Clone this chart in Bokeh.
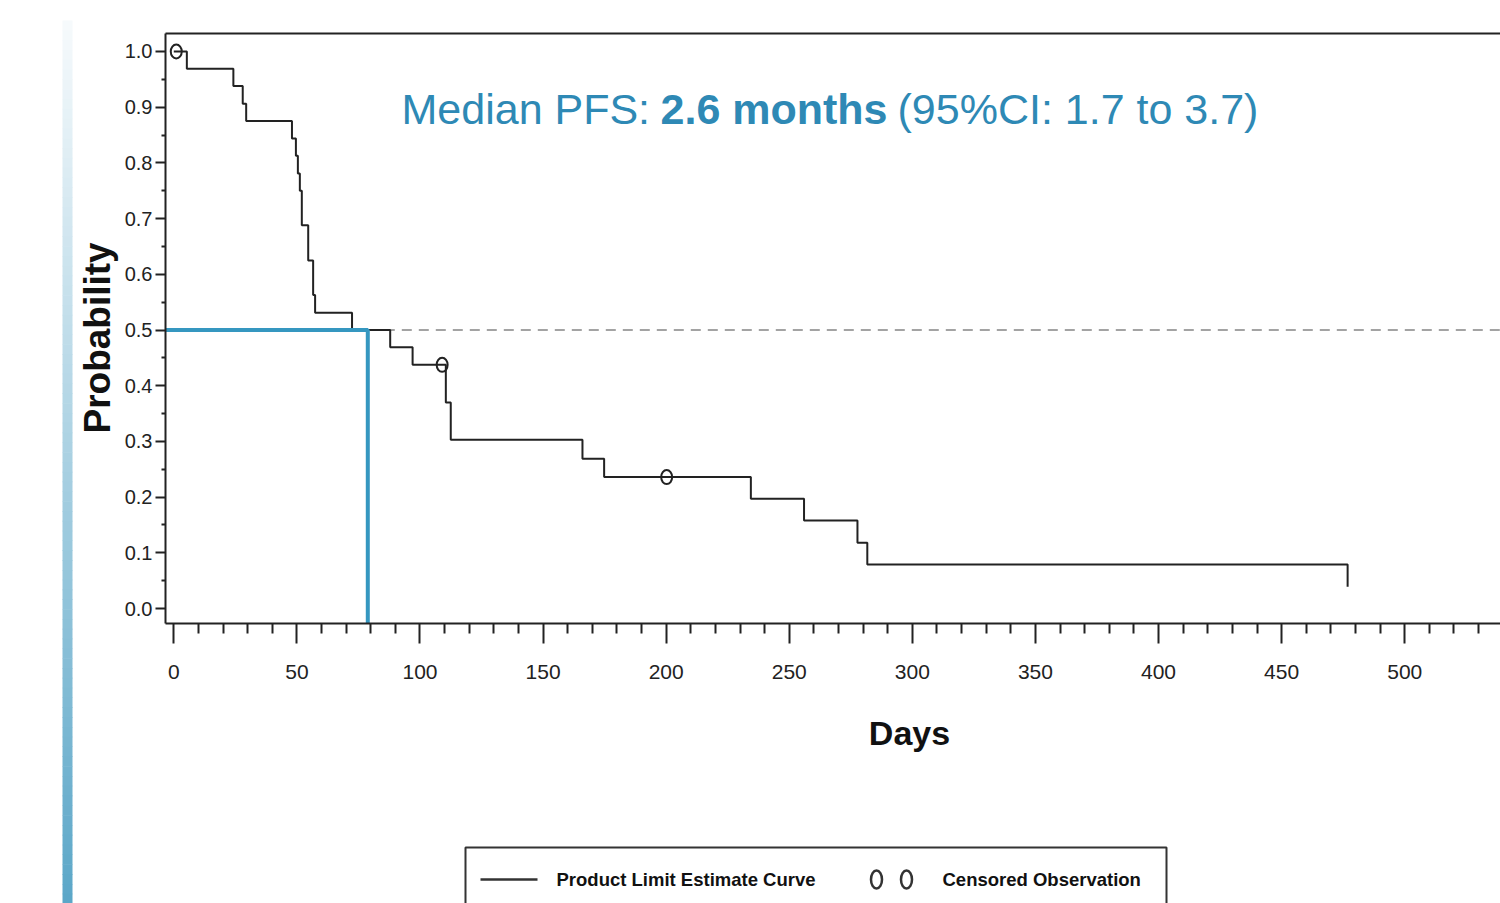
from bokeh.plotting import figure
from bokeh.models import Range1d, FixedTicker, LinearAxis, Label, NumeralTickFormatter
from bokeh.layouts import row, column
from bokeh.embed import file_html
from bokeh.resources import INLINE
from bokeh.core.properties import value
import math

# ---------------- data ----------------
step_days = [0, 5.3, 24.2, 28.0, 29.4, 48.0, 49.6, 50.4, 51.2, 52.0, 54.6, 56.6,
             57.4, 72.4, 87.9, 97.0, 110.5, 112.5, 166.0, 174.8, 234.4, 256.0,
             277.7, 281.7, 476.8]
step_surv = [1.0, 0.969, 0.938, 0.906, 0.875, 0.844, 0.813, 0.781, 0.750, 0.688,
             0.625, 0.563, 0.531, 0.500, 0.469, 0.4375, 0.370, 0.303, 0.269, 0.236,
             0.197, 0.158, 0.118, 0.079, 0.039]
censor_days = [1.0, 109.0, 200.2]
censor_surv = [1.0, 0.4375, 0.236]
median_days = 78.8
median_prob = 0.5
x_major = [0, 50, 100, 150, 200, 250, 300, 350, 400, 450, 500]
x_minor = [10, 20, 30, 40, 60, 70, 80, 90, 110, 120, 130, 140, 160, 170, 180, 190,
           210, 220, 230, 240, 260, 270, 280, 290, 310, 320, 330, 340, 360, 370,
           380, 390, 410, 420, 430, 440, 460, 470, 480, 490, 510, 520, 530]
y_major = [0.0, 0.1, 0.2, 0.3, 0.4, 0.5, 0.6, 0.7, 0.8, 0.9, 1.0]
y_minor = [0.05, 0.15, 0.25, 0.35, 0.45, 0.55, 0.65, 0.75, 0.85, 0.95]
title_parts = ["Median PFS: ", "2.6 months", "(95%CI: 1.7 to 3.7)"]
y_label = "Probability"
x_label = "Days"
legend_labels = ["Product Limit Estimate Curve", "Censored Observation"]

# ---------------- style ----------------
FONT = "Liberation Sans"
INK = "#222222"
BLUE_LINE = "#3597c0"
BLUE_TEXT = "#2e89b5"
PAGE_H = 903
LEFT_W = 120
X0, X1 = -3.37, 538.9
Y0, Y1 = -0.0269, 1.0323

# ---------------- left strip: gradient bar + y label ----------------
bar = figure(width=LEFT_W, height=PAGE_H, x_range=Range1d(0, LEFT_W),
             y_range=Range1d(0, PAGE_H), x_axis_type=None, y_axis_type=None,
             output_backend="svg", toolbar_location=None, min_border=0)
bar.outline_line_color = None
n_seg = 90
top_c = (246, 250, 252)
bot_c = (92, 167, 200)
g0, g1 = 20.0, 903.0
tops, bots, cols = [], [], []
for i in range(n_seg):
    t = i / (n_seg - 1)
    a = g0 + (g1 - g0) * i / n_seg
    b = g0 + (g1 - g0) * (i + 1) / n_seg + 0.6
    c = tuple(int(round(top_c[k] + (bot_c[k] - top_c[k]) * t)) for k in range(3))
    tops.append(PAGE_H - a)
    bots.append(PAGE_H - b)
    cols.append("#%02x%02x%02x" % c)
bar.quad(left=62, right=72, top=tops, bottom=bots, fill_color=cols, line_color=None)
bar.text(x=[97], y=[PAGE_H - 337.4], text=[y_label], angle=math.pi / 2,
         text_font=value(FONT), text_font_size=value("37px"), text_font_style="bold",
         text_color="#111111", text_align="center", text_baseline="alphabetic")

# ---------------- main KM plot ----------------
main = figure(width=1500 - LEFT_W, height=698,
              x_range=Range1d(X0, X1), y_range=Range1d(Y0, Y1),
              output_backend="svg", toolbar_location=None,
              min_border_left=165 - LEFT_W, min_border_right=0, min_border_top=33,
              min_border_bottom=75)
main.outline_line_color = None
main.xgrid.visible = False
main.ygrid.visible = False

xa = main.xaxis[0]
xa.ticker = FixedTicker(ticks=x_major, minor_ticks=x_minor)
xa.axis_line_width = 2
xa.axis_line_color = INK
xa.major_tick_line_width = 2
xa.major_tick_line_color = INK
xa.major_tick_out = 20
xa.major_tick_in = 0
xa.minor_tick_line_width = 2
xa.minor_tick_line_color = INK
xa.minor_tick_out = 10
xa.minor_tick_in = 0
xa.major_label_text_font = FONT
xa.major_label_text_font_size = "21px"
xa.major_label_text_color = INK
xa.major_label_standoff = 21

ya = main.yaxis[0]
ya.ticker = FixedTicker(ticks=y_major, minor_ticks=y_minor)
ya.formatter = NumeralTickFormatter(format="0.0")
ya.axis_line_width = 2
ya.axis_line_color = INK
ya.major_tick_line_width = 2
ya.major_tick_line_color = INK
ya.major_tick_out = 10
ya.major_tick_in = 0
ya.minor_tick_line_width = 2
ya.minor_tick_line_color = INK
ya.minor_tick_out = 4
ya.minor_tick_in = 0
ya.major_label_text_font = FONT
ya.major_label_text_font_size = "20px"
ya.major_label_text_color = INK
ya.major_label_standoff = 3

top_axis = LinearAxis(ticker=FixedTicker(ticks=[]), axis_line_width=2, axis_line_color=INK,
                      major_tick_out=0, minor_tick_out=0, major_label_text_font_size="0px")
main.add_layout(top_axis, "above")

# dashed reference at 0.5
main.line(x=[median_days, X1], y=[median_prob, median_prob], line_color="#a3a3a3",
          line_width=2, line_dash="10 7")
# KM curve
main.step(x=step_days, y=step_surv, mode="after", line_color=INK, line_width=2)
# censored marks
main.ellipse(x=censor_days, y=censor_surv, width=11, height=14,
             width_units="screen", height_units="screen",
             fill_color=None, line_color=INK, line_width=2)
# median lines
main.line(x=[X0, median_days, median_days], y=[median_prob, median_prob, Y0],
          line_color=BLUE_LINE, line_width=4)

# title text pieces
offsets = [0, 259, 496]
styles = ["normal", "bold", "normal"]
for txt, off, st in zip(title_parts, offsets, styles):
    main.add_layout(Label(x=92.5, y=0.8964, x_offset=off, text=txt, text_font=FONT,
                          text_font_size="43px", text_font_style=st,
                          text_color=BLUE_TEXT, text_align="left",
                          text_baseline="alphabetic"))

# ---------------- bottom: x label + legend (page-pixel coordinates) ----------------
LEG_TOP = 698
leg = figure(width=1500 - LEFT_W, height=PAGE_H - LEG_TOP, x_range=Range1d(165, 1500),
             y_range=Range1d(0, PAGE_H - LEG_TOP), x_axis_type=None, y_axis_type=None,
             output_backend="svg", toolbar_location=None, min_border=0,
             min_border_left=165 - LEFT_W, min_border_right=0)
leg.outline_line_color = None

def ly(v):
    return PAGE_H - v

leg.text(x=[909], y=[ly(732)], text=[x_label], text_font=value(FONT),
         text_font_size=value("34px"), text_font_style="bold", text_color="#111111",
         text_align="center", text_baseline="alphabetic")

leg.quad(left=[465], right=[1166], top=[ly(847)], bottom=[ly(930)], fill_color=None,
         line_color="#333333", line_width=2)
leg.line(x=[480, 537], y=[ly(879), ly(879)], line_color="#333333", line_width=2.5)
leg.ellipse(x=[876, 906], y=[ly(879), ly(879)], width=11, height=18,
            width_units="screen", height_units="screen",
            fill_color=None, line_color="#333333", line_width=2.5)
leg.text(x=[556, 942], y=[ly(879), ly(879)], text=legend_labels, text_font=value(FONT),
         text_font_size=value("18.5px"), text_font_style="bold", text_color="#111111",
         text_align="left", text_baseline="alphabetic")

layout = row(bar, column(main, leg))
open("out.html", "w").write(file_html(layout, INLINE))
